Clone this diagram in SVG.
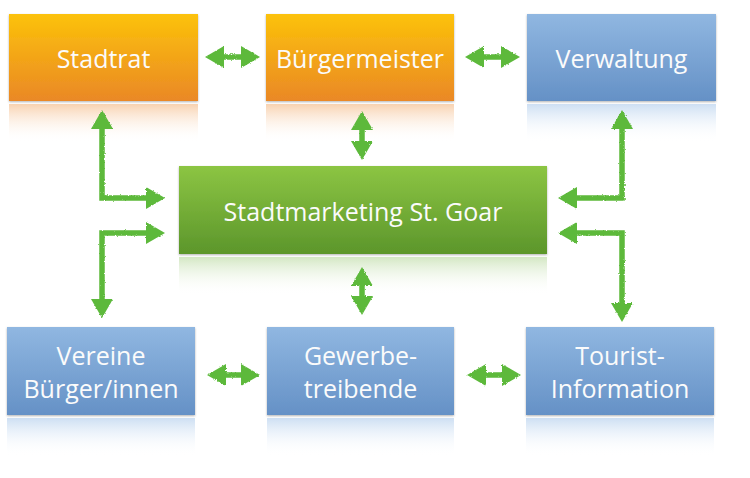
<svg xmlns="http://www.w3.org/2000/svg" width="750" height="478" viewBox="0 0 750 478">
<defs>
<linearGradient id="gOr" x1="0" y1="0" x2="0" y2="1"><stop offset="0" stop-color="#fcc20a"/><stop offset="1" stop-color="#ea8826"/></linearGradient>
<linearGradient id="gBl" x1="0" y1="0" x2="0" y2="1"><stop offset="0" stop-color="#90b7e1"/><stop offset="1" stop-color="#6591c6"/></linearGradient>
<linearGradient id="gGr" x1="0" y1="0" x2="0" y2="1"><stop offset="0" stop-color="#8cc543"/><stop offset="1" stop-color="#5c962b"/></linearGradient>
<linearGradient id="rOr" x1="0" y1="0" x2="0" y2="1"><stop offset="0" stop-color="#f8d2b0"/><stop offset="1" stop-color="#ffffff" stop-opacity="0"/></linearGradient>
<linearGradient id="rBl" x1="0" y1="0" x2="0" y2="1"><stop offset="0" stop-color="#cddff3"/><stop offset="1" stop-color="#ffffff" stop-opacity="0"/></linearGradient>
<linearGradient id="rGr" x1="0" y1="0" x2="0" y2="1"><stop offset="0" stop-color="#d3e7c3"/><stop offset="1" stop-color="#ffffff" stop-opacity="0"/></linearGradient>
<filter id="sh" x="-5%" y="-10%" width="110%" height="125%"><feDropShadow dx="0" dy="1" stdDeviation="1" flood-color="#000" flood-opacity="0.3"/></filter>
<filter id="rough" x="-10%" y="-10%" width="120%" height="120%">
<feTurbulence type="fractalNoise" baseFrequency="0.9" numOctaves="2" seed="3" result="n"/>
<feDisplacementMap in="SourceGraphic" in2="n" scale="2.5" xChannelSelector="R" yChannelSelector="G"/>
</filter>
<marker id="ah" markerUnits="userSpaceOnUse" markerWidth="20" markerHeight="22" refX="0" refY="11" orient="auto-start-reverse" overflow="visible">
<path d="M-1,0 L18,11 L-1,22 Z" fill="#5db93b"/>
</marker>
</defs>
<style>
.lbl{font-family:"Open Sans","Noto Sans","Liberation Sans",sans-serif;font-size:25px;fill:#fbfbfb;text-anchor:middle}
.con{fill:none;stroke:#5db93b;stroke-width:5.5;stroke-linejoin:miter;marker-start:url(#ah);marker-end:url(#ah)}
</style>
<rect width="750" height="478" fill="#ffffff"/>

<g id="stadtrat">
<rect x="9" y="104" width="189" height="38" fill="url(#rOr)"/>
<rect x="9" y="14" width="189" height="87" fill="url(#gOr)" filter="url(#sh)"/>
<text class="lbl" x="103.5" y="68">Stadtrat</text>
</g>
<g id="buergermeister">
<rect x="266" y="104" width="188" height="38" fill="url(#rOr)"/>
<rect x="266" y="14" width="188" height="87" fill="url(#gOr)" filter="url(#sh)"/>
<text class="lbl" x="360" y="68">Bürgermeister</text>
</g>
<g id="verwaltung">
<rect x="527" y="104" width="189" height="38" fill="url(#rBl)"/>
<rect x="527" y="14" width="189" height="87" fill="url(#gBl)" filter="url(#sh)"/>
<text class="lbl" x="621.5" y="68">Verwaltung</text>
</g>
<g id="stadtmarketing">
<rect x="179" y="257" width="368" height="38" fill="url(#rGr)"/>
<rect x="179" y="166" width="368" height="88" fill="url(#gGr)" filter="url(#sh)"/>
<text class="lbl" x="363" y="221">Stadtmarketing St. Goar</text>
</g>
<g id="vereine">
<rect x="7" y="418" width="188" height="38" fill="url(#rBl)"/>
<rect x="7" y="327" width="188" height="88" fill="url(#gBl)" filter="url(#sh)"/>
<text class="lbl" x="101" y="365">Vereine</text>
<text class="lbl" x="101" y="398">Bürger/innen</text>
</g>
<g id="gewerbe">
<rect x="267" y="418" width="187" height="38" fill="url(#rBl)"/>
<rect x="267" y="327" width="187" height="88" fill="url(#gBl)" filter="url(#sh)"/>
<text class="lbl" x="360.5" y="365">Gewerbe-</text>
<text class="lbl" x="360.5" y="398">treibende</text>
</g>
<g id="tourist">
<rect x="526" y="418" width="188" height="38" fill="url(#rBl)"/>
<rect x="526" y="327" width="188" height="88" fill="url(#gBl)" filter="url(#sh)"/>
<text class="lbl" x="620" y="365">Tourist-</text>
<text class="lbl" x="620" y="398">Information</text>
</g>

<g id="connectors" filter="url(#rough)">
<path class="con" d="M223,57 L242,57"/>
<path class="con" d="M483,57 L502,57"/>
<path class="con" d="M362,129 L362,142"/>
<path class="con" d="M362,285 L362,297"/>
<path class="con" d="M225,375 L242,375"/>
<path class="con" d="M485,375 L503,375"/>
<path class="con" d="M102,128 L102,198 L147,198"/>
<path class="con" d="M147,233 L102,233 L102,300"/>
<path class="con" d="M622,128 L622,198 L576,198"/>
<path class="con" d="M576,233 L622,233 L622,304"/>
</g>
</svg>
